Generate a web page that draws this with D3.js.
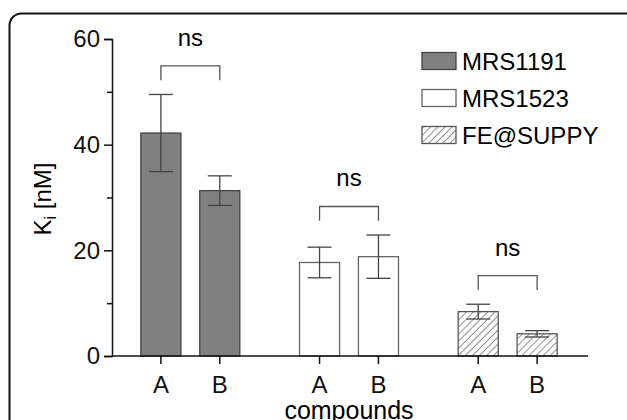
<!DOCTYPE html>
<html>
<head>
<meta charset="utf-8">
<script src="https://cdn.jsdelivr.net/npm/d3@7"></script>
<style>
  body { margin: 0; background: #fff; }
  svg { display: block; font-family: "Liberation Sans", Arial, sans-serif; }
</style>
</head>
<body>
<svg id="chart" width="627" height="420"></svg>
<script>
// data
var groups = ['MRS1191', 'MRS1523', 'FE@SUPPY'];
var compounds = ['A', 'B'];
var kiMean = [[42.2, 31.3], [17.7, 18.8], [8.4, 4.2]];
var kiErr = [[7.3, 2.8], [2.9, 4.1], [1.4, 0.6]];
var sigLabels = ['ns', 'ns', 'ns'];
var yTicks = [0, 20, 40, 60];
var yMinorTicks = [10, 30, 50];

(function () {

    var svg = d3.select('#chart');
    var fontSize = 24;

    var y = d3.scaleLinear().domain([0, 60]).range([356, 39]);

    var x0 = d3.scaleBand().domain(groups)
        .range([111, 587]).paddingInner(0.25).paddingOuter(0.125);

    var x1 = d3.scaleBand().domain(compounds)
        .range([0, x0.bandwidth()]).paddingInner(0.32).paddingOuter(0.17);

    var center = function (g, c) {
        return x0(g) + x1(c) + x1.bandwidth() / 2;
    };

    /*=============== PATTERN / FILLS ============*/

    var defs = svg.append('defs');
    var hatch = defs.append('pattern')
        .attr('id', 'hatch')
        .attr('patternUnits', 'userSpaceOnUse')
        .attr('width', 5)
        .attr('height', 5)
        .attr('patternTransform', 'rotate(45)');
    hatch.append('rect').attr('width', 5).attr('height', 5).attr('fill', '#fff');
    hatch.append('line')
        .attr('x1', 0).attr('y1', 0).attr('x2', 0).attr('y2', 5)
        .attr('stroke', '#777').attr('stroke-width', 1.6);

    var fills = {'MRS1191': '#808080', 'MRS1523': '#ffffff', 'FE@SUPPY': 'url(#hatch)'};
    var strokes = {'MRS1191': '#444', 'MRS1523': '#666', 'FE@SUPPY': '#555'};

    // outer frame
    svg.append('rect')
        .attr('x', 9.5).attr('y', 13.5)
        .attr('width', 640).attr('height', 440)
        .attr('rx', 12)
        .attr('fill', 'none')
        .attr('stroke', '#111')
        .attr('stroke-width', 2);

    /*=============== BARS ============*/

    var rows = [];
    groups.forEach(function (g, gi) {
        compounds.forEach(function (c, ci) {
            rows.push({group: g, comp: c, mean: kiMean[gi][ci], err: kiErr[gi][ci]});
        });
    });

    svg.append('g').selectAll('rect')
        .data(rows)
        .enter().append('rect')
            .attr('x', function (d) { return x0(d.group) + x1(d.comp); })
            .attr('y', function (d) { return y(d.mean); })
            .attr('width', x1.bandwidth())
            .attr('height', function (d) { return y(0) - y(d.mean); })
            .attr('fill', function (d) { return fills[d.group]; })
            .attr('stroke', function (d) { return strokes[d.group]; })
            .attr('stroke-width', 1.3);

    // error bars
    var err = svg.append('g').attr('stroke', '#444').attr('stroke-width', 1.3);
    rows.forEach(function (d) {
        var cx = center(d.group, d.comp);
        err.append('line')
            .attr('x1', cx).attr('x2', cx)
            .attr('y1', y(d.mean - d.err)).attr('y2', y(d.mean + d.err));
        [d.mean - d.err, d.mean + d.err].forEach(function (v) {
            err.append('line')
                .attr('x1', cx - 12).attr('x2', cx + 12)
                .attr('y1', y(v)).attr('y2', y(v));
        });
    });

    /*=============== SIGNIFICANCE BRACKETS ============*/

    groups.forEach(function (g, gi) {
        var topVal = d3.max(compounds, function (c, ci) { return kiMean[gi][ci] + kiErr[gi][ci]; });
        var legY = y(topVal + 2.7);
        var barY = y(topVal + 5.4);
        var xa = center(g, 'A');
        var xb = center(g, 'B');
        svg.append('path')
            .attr('d', 'M' + xa + ',' + legY + 'V' + barY + 'H' + xb + 'V' + legY)
            .attr('fill', 'none')
            .attr('stroke', '#555')
            .attr('stroke-width', 1.3);
        svg.append('text')
            .attr('x', (xa + xb) / 2)
            .attr('y', barY - 20)
            .attr('text-anchor', 'middle')
            .attr('font-size', fontSize)
            .text(sigLabels[gi]);
    });

    /*=============== AXES ============*/

    var yAxis = svg.append('g')
        .attr('transform', 'translate(112,0)')
        .call(d3.axisLeft(y).tickValues(yTicks).tickSize(8).tickPadding(4));
    yAxis.selectAll('text').attr('font-size', fontSize).attr('fill', '#111')
        .attr('font-family', '"Liberation Sans", Arial, sans-serif');

    svg.append('g')
        .attr('transform', 'translate(112,0)')
        .call(d3.axisLeft(y).tickValues(yMinorTicks).tickSize(5).tickFormat(''))
        .select('.domain').remove();

    groups.forEach(function (g) {
        var gx = svg.append('g')
            .attr('transform', 'translate(' + x0(g) + ',356)')
            .call(d3.axisBottom(x1).tickSize(8).tickPadding(12));
        gx.select('.domain').remove();
        gx.selectAll('text').attr('font-size', fontSize).attr('fill', '#111')
            .attr('font-family', '"Liberation Sans", Arial, sans-serif');
    });

    svg.selectAll('.tick line').attr('stroke', '#111').attr('stroke-width', 1.5);
    yAxis.select('.domain').attr('stroke', '#111').attr('stroke-width', 1.5);

    svg.append('line')
        .attr('x1', 112).attr('x2', 588)
        .attr('y1', 356).attr('y2', 356)
        .attr('stroke', '#111')
        .attr('stroke-width', 1.5);

    // axis titles (the bottom one is clipped by the frame edge, as in the figure)
    svg.append('text')
        .attr('x', 349)
        .attr('y', 419)
        .attr('text-anchor', 'middle')
        .attr('font-size', 25)
        .text('compounds');

    var yLab = svg.append('text')
        .attr('transform', 'translate(51,199) rotate(-90)')
        .attr('text-anchor', 'middle')
        .attr('font-size', fontSize);
    yLab.append('tspan').text('K');
    yLab.append('tspan').attr('font-size', 16).attr('dy', 5).text('i');
    yLab.append('tspan').attr('dy', -5).text(' [nM]');

    /*=============== LEGEND ============*/

    var legend = svg.append('g').attr('transform', 'translate(422,61)');
    var item = legend.selectAll('g')
        .data(groups)
        .enter().append('g')
            .attr('transform', function (d, i) { return 'translate(0,' + (i * 37) + ')'; });
    item.append('rect')
        .attr('x', 0).attr('y', -8.5)
        .attr('width', 34).attr('height', 17)
        .attr('fill', function (d) { return fills[d]; })
        .attr('stroke', function (d) { return strokes[d]; })
        .attr('stroke-width', 1.3);
    item.append('text')
        .attr('x', 40)
        .attr('dy', '0.36em')
        .attr('font-size', fontSize)
        .text(function (d) { return d; });

})();
</script>
</body>
</html>
